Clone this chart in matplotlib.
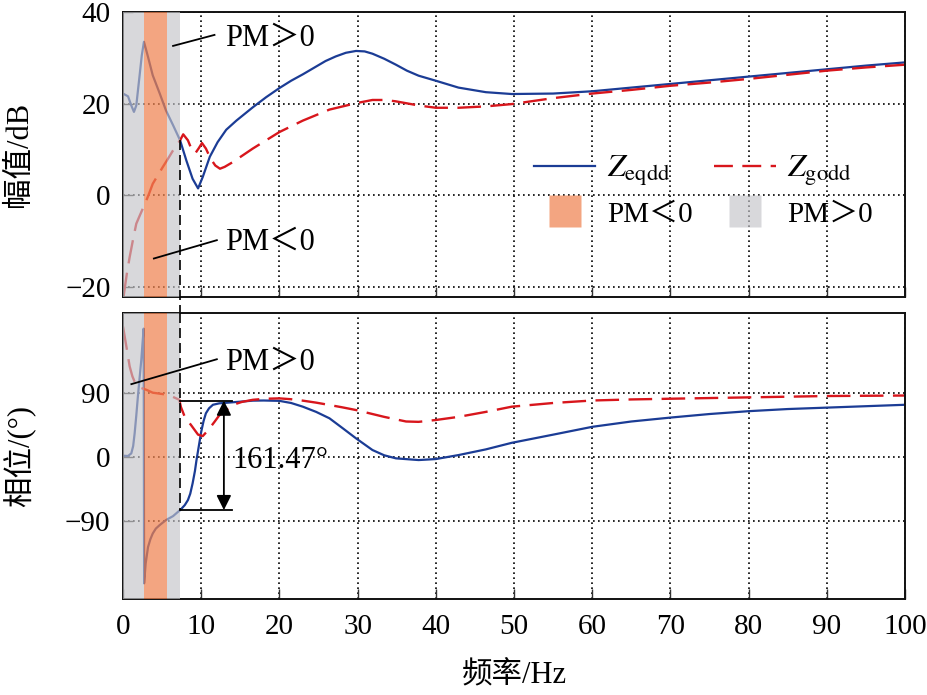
import matplotlib
matplotlib.use('Agg')
import matplotlib.pyplot as plt
from matplotlib.lines import Line2D

plt.rcParams['font.family'] = ['Liberation Serif', 'Noto Sans CJK SC']
plt.rcParams['mathtext.fontset'] = 'stix'
plt.rcParams['axes.unicode_minus'] = True

# ---------------- data ----------------
freq_mag_eq = [0, 0.64, 1.06, 1.4, 1.7, 2.1, 2.4, 2.68, 3.2, 3.8, 4.7, 5.5, 6.4, 7.3, 8.1,
               8.9, 9.6, 10.2, 11.1, 12.1, 13.2, 14.5, 16.6, 18.3, 20, 21.5, 23, 24.5, 25.9,
               27.2, 28.5, 29.8, 30.9, 31.9, 33.4, 34.9, 36.3, 37.8, 40, 42.9, 46.4, 49.7,
               55, 60, 65, 70, 75, 80, 85, 90, 95, 100]
mag_eq = [22.2, 21.6, 19.6, 18.2, 19.6, 25.8, 30.5, 33.5, 30.2, 26.2, 22.2, 18.5, 15.3, 12.0, 7.6,
          3.6, 1.5, 4.0, 8.4, 11.6, 14.3, 16.3, 19.2, 21.4, 23.4, 25.0, 26.4, 27.9, 29.3,
          30.3, 31.1, 31.5, 31.4, 30.9, 29.8, 28.5, 27.2, 26.1, 25.0, 23.5, 22.5, 22.1,
          22.2, 22.7, 23.5, 24.3, 25.1, 25.9, 26.7, 27.5, 28.3, 29.0]

freq_mag_go = [0.08, 0.5, 0.85, 1.3, 1.7, 2.2, 2.77, 3.3, 3.8, 4.5, 5.1, 5.8, 6.4, 7.3, 7.7,
               8.3, 8.9, 9.3, 9.7, 10.1, 10.6, 11.2, 11.8, 12.4, 13.0, 14.0, 16.6, 20, 23,
               26.4, 29.8, 31.9, 33.5, 34.9, 37.8, 40, 42.9, 46.4, 49.7, 55, 60, 65, 70, 75,
               80, 85, 90, 95, 100]
mag_go = [-22.0, -17.0, -13.5, -9.5, -6.2, -4.2, -2.0, 0.2, 2.5, 4.5, 6.2, 8.1, 9.8, 12.0, 13.3,
          12.0, 9.5, 9.3, 10.3, 11.4, 10.2, 8.0, 6.5, 5.8, 6.2, 7.2, 10.2, 13.8, 16.3,
          18.7, 20.1, 20.8, 20.8, 20.5, 19.6, 19.1, 19.1, 19.4, 19.9, 21.2, 22.2, 23.0, 23.9, 24.6,
          25.4, 26.3, 27.2, 27.9, 28.5]

freq_ph_eq = [0, 0.64, 1.06, 1.3, 1.49, 1.7, 1.9, 2.1, 2.34, 2.5, 2.64, 2.7, 2.9, 3.2, 3.5, 3.8,
              4.2, 4.7, 5.5, 6.4, 7.4, 7.9, 8.3, 8.6, 8.9, 9.2, 9.4, 10.0, 10.3, 10.6, 11.0,
              11.5, 12.3, 14.0, 16.6, 18.0, 20, 21.5, 23, 24.7, 26.4, 28.1, 29.8, 31.9, 33.4,
              34.9, 37.8, 40, 42.9, 46.4, 49.7, 55, 60, 65, 70, 75, 80, 85, 90, 95, 100]
ph_eq = [1.4, 1.0, 4.7, 15, 33, 58, 84, 108, 136, 160, 180, -178, -150, -127, -116, -108,
         -101, -96, -89, -83.5, -74, -68, -61, -52, -37.5, -20, -4.7, 35, 50, 61, 68,
         73, 75, 76.5, 78.8, 79, 78.5, 75.5, 70.3, 63, 54, 40, 25.8, 9.4, 2,
         -2.3, -4.7, -3.3, 2.3, 10.3, 19.5, 31, 42, 49.5, 55, 60, 64, 67, 69, 71, 73]

freq_ph_go = [0, 0.43, 0.85, 1.2, 1.5, 2.1, 3.0, 3.8, 5.1, 6.4, 7.2, 7.4, 7.9, 8.7, 9.6, 10.2,
              10.9, 11.7, 12.3, 13.2, 14.0, 15.2, 16.6, 18.3, 20, 21.5, 23, 24.7, 26.4, 28,
              29.8, 31.9, 33.4, 34.9, 36.2, 37.8, 40, 42.9, 46.4, 49.7, 55, 60, 65, 70, 80,
              90, 100]
ph_go = [183, 155, 127, 113, 105, 97.5, 94, 90, 88, 84, 80, 70, 56, 44.5, 31, 29,
         37.5, 49, 58, 65.6, 72.7, 77, 80, 81.5, 82, 80.8, 78.8, 76, 72.7, 69.5,
         65.6, 60, 56, 52.5, 49.5, 49, 51.6, 56, 63, 70.3, 75.5, 79, 80.5, 81.5, 83.4,
         85.3, 86]

pm_neg_bands = [(2.68, 5.62)]
pm_pos_bands = [(0.0, 2.68), (5.62, 7.23)]
boundary_freq = 7.35
phase_top, phase_bottom = 78.8, -75.0
margin_label = '161.47°'

x_ticks = list(range(0, 101, 10))
mag_ticks = [-20, 0, 20, 40]
ph_ticks = [-90, 0, 90]

# ---------------- styling ----------------
BLUE = '#1b3c95'
RED = '#d8161c'
ORANGE = '#ef8350'
GRAY = '#c4c4c8'
FS = 21

fig = plt.figure(figsize=(9.28, 6.95), dpi=100)
L = 123 / 928
W = (905 - 123) / 928
ax1 = fig.add_axes([L, 1 - 297 / 695, W, (297 - 12) / 695])
ax2 = fig.add_axes([L, 1 - 599 / 695, W, (599 - 313) / 695])

for ax in (ax1, ax2):
    ax.set_xlim(0, 100)
    ax.set_xticks(x_ticks)
    ax.grid(True, color='k', linestyle=(0, (1, 2)), linewidth=1.2)
    ax.tick_params(direction='in', length=7, width=1.0, color='#333333',
                   labelsize=FS, top=False, right=False)
    ax.tick_params(axis='x', pad=11)
    ax.tick_params(axis='y', pad=9)
    for s in ax.spines.values():
        s.set_linewidth(1.4)
        s.set_color('#111111')
    for a, b in pm_pos_bands:
        ax.axvspan(a, b, color=GRAY, alpha=0.65, lw=0, zorder=3)
    for a, b in pm_neg_bands:
        ax.axvspan(a, b, color=ORANGE, alpha=0.72, lw=0, zorder=3)

ax1.tick_params(axis='x', labelbottom=False)
ax1.set_ylim(-22.2, 40)
ax1.set_yticks(mag_ticks)
ax2.set_ylim(-200, 202)
ax2.set_yticks(ph_ticks)

# curves
ax1.plot(freq_mag_eq, mag_eq, color=BLUE, lw=1.6, zorder=2)
ax1.plot(freq_mag_go, mag_go, color=RED, lw=1.7, dashes=(10, 4), zorder=2)
ax2.plot(freq_ph_eq, ph_eq, color=BLUE, lw=1.6, zorder=2)
ax2.plot(freq_ph_go, ph_go, color=RED, lw=1.7, dashes=(10, 4), zorder=2)

# boundary dashed line
ax1.plot([boundary_freq, boundary_freq], [12.0, -26.0], color='k', lw=1.2,
         dashes=(6, 3), clip_on=False, zorder=4)
ax2.plot([boundary_freq, boundary_freq], [202, phase_bottom], color='k', lw=1.2,
         dashes=(6, 3), zorder=4)

# phase margin annotation
ax2.plot([boundary_freq, 14.0], [phase_top, phase_top], color='k', lw=1.3, zorder=5)
ax2.plot([boundary_freq, 14.0], [phase_bottom, phase_bottom], color='k', lw=1.3, zorder=5)
ax2.annotate('', xy=(12.9, phase_top), xytext=(12.9, phase_bottom),
             arrowprops=dict(arrowstyle='<|-|>', color='k', lw=1.3,
                             mutation_scale=22, shrinkA=0, shrinkB=0), zorder=5)
ax2.text(14.0, -5, margin_label, fontsize=22, va='center', ha='left', zorder=6)

# PM annotations
ax1.plot([6.4, 11.7], [32.6, 35.0], color='k', lw=1.3, zorder=5)
ax1.text(13.1, 34.4, 'PM＞0', fontsize=22, va='center', ha='left', zorder=6)
ax1.plot([3.95, 12.0], [-13.8, -9.8], color='k', lw=1.3, zorder=5)
ax1.text(13.1, -10.3, 'PM＜0', fontsize=22, va='center', ha='left', zorder=6)
ax2.plot([1.07, 12.0], [102, 137], color='k', lw=1.3, zorder=5)
ax2.text(13.1, 132.5, 'PM＞0', fontsize=22, va='center', ha='left', zorder=6)

# legend
h_eq = Line2D([], [], color=BLUE, lw=1.6)
h_go = Line2D([], [], color=RED, lw=1.7, dashes=(8, 4))
h_neg = Line2D([], [], marker='s', ms=23, ls='none', mfc=ORANGE, mec='none', alpha=0.72)
h_pos = Line2D([], [], marker='s', ms=23, ls='none', mfc=GRAY, mec='none', alpha=0.65)
leg = ax1.legend([h_eq, h_neg, h_go, h_pos],
                 [r'$Z_{\mathrm{eqdd}}$', 'PM＜0', r'$Z_{\mathrm{godd}}$', 'PM＞0'],
                 ncol=2, loc='upper left', bbox_to_anchor=(0.507, 0.555),
                 frameon=False, fontsize=21, handlelength=2.1, handletextpad=0.4,
                 columnspacing=0.75, labelspacing=0.45, borderpad=0)
texts = leg.get_texts()
texts[0].set_fontsize(23)
texts[2].set_fontsize(23)

# axis labels
fig.text(20 / 928, 1 - 154.5 / 695, '幅值/dB', rotation=90, va='center', ha='center', fontsize=22)
fig.text(20 / 928, 1 - 456 / 695, '相位/(°)', rotation=90, va='center', ha='center', fontsize=22)
fig.text(514 / 928, 1 - 676 / 695, '频率/Hz', va='center', ha='center', fontsize=22)

fig.savefig('out.png', dpi=100)
